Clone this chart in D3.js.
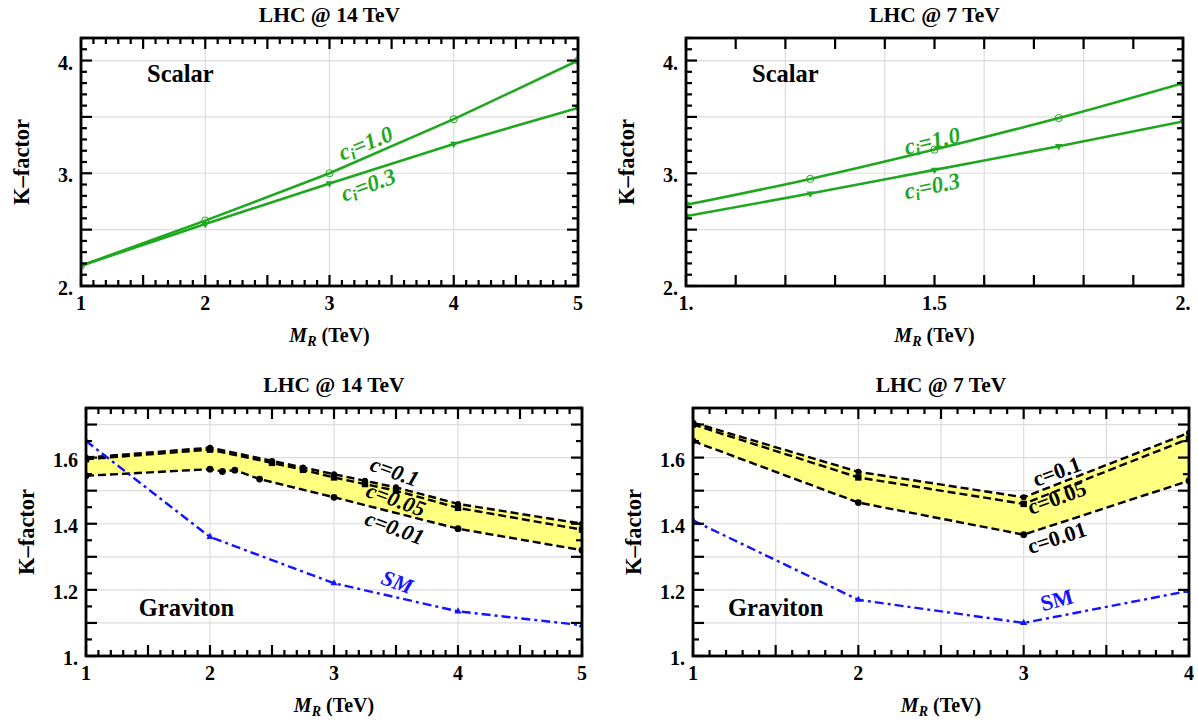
<!DOCTYPE html>
<html><head><meta charset="utf-8">
<script src="https://cdn.jsdelivr.net/npm/d3@7"></script>
<style>
body{margin:0;background:#fff}
text{font-family:"Liberation Serif","Times New Roman",serif;font-weight:bold}
</style>
</head><body>
<svg id="c" width="1198" height="723"></svg>
<script>
// ---------------- data ----------------
const scalar14X   = [1, 2, 3, 4, 5];
const scalar14C10 = [2.18, 2.58, 3.00, 3.48, 4.00];
const scalar14C03 = [2.18, 2.55, 2.91, 3.26, 3.58];

const scalar7X    = [1, 1.25, 1.5, 1.75, 2];
const scalar7C10  = [2.72, 2.95, 3.21, 3.49, 3.80];
const scalar7C03  = [2.62, 2.82, 3.03, 3.24, 3.46];

const grav14X_top = [1, 2, 2.5, 2.75, 3, 3.25, 3.5, 4, 5];
const grav14_c01  = [1.600, 1.630, 1.590, 1.570, 1.550, 1.530, 1.510, 1.460, 1.400];
const grav14_c005 = [1.595, 1.624, 1.584, 1.563, 1.540, 1.520, 1.500, 1.448, 1.382];
const grav14X_low = [1, 2, 2.1, 2.2, 2.4, 3, 4, 5];
const grav14_c001 = [1.545, 1.565, 1.558, 1.562, 1.535, 1.480, 1.385, 1.320];
const sm14X       = [1, 2, 3, 4, 5];
const sm14        = [1.650, 1.360, 1.220, 1.135, 1.093];

const grav7X      = [1, 2, 3, 4];
const grav7_c01   = [1.706, 1.557, 1.480, 1.675];
const grav7_c005  = [1.700, 1.540, 1.460, 1.657];
const grav7_c001  = [1.650, 1.464, 1.367, 1.530];
const sm7         = [1.410, 1.170, 1.100, 1.197];

const titles = ["LHC @ 14 TeV", "LHC @ 7 TeV", "LHC @ 14 TeV", "LHC @ 7 TeV"];
const ticksScalarY = [2, 3, 4];
const ticksScalarYLabels = ["2.", "3.", "4."];
const ticks14X = [1, 2, 3, 4, 5];
const ticks14XLabels = ["1", "2", "3", "4", "5"];
const ticks7sX = [1, 1.5, 2];
const ticks7sXLabels = ["1.", "1.5", "2."];
const ticksGravY = [1, 1.2, 1.4, 1.6];
const ticksGravYLabels = ["1.", "1.2", "1.4", "1.6"];
const ticks7gX = [1, 2, 3, 4];
const ticks7gXLabels = ["1", "2", "3", "4"];

// ---------------- drawing ----------------
const svg = d3.select("#c");
const GREEN = "#1fa81f", BLUE = "#1414ff", YELLOW = "#ffff80";

function rng(a, b, s) {
  const out = [];
  const n = Math.round((b - a) / s);
  for (let i = 0; i <= n; i++) out.push(+(a + i * s).toFixed(6));
  return out;
}

function panel(cfg) {
  const g = svg.append("g");
  const x = d3.scaleLinear().domain(cfg.xd).range([cfg.l, cfg.r]);
  const y = d3.scaleLinear().domain(cfg.yd).range([cfg.b, cfg.t]);
  const id = "clip" + cfg.id;
  svg.append("clipPath").attr("id", id).append("rect")
    .attr("x", cfg.l).attr("y", cfg.t).attr("width", cfg.r - cfg.l).attr("height", cfg.b - cfg.t);

  // grid
  cfg.gridX.forEach(v => g.append("line").attr("x1", x(v)).attr("x2", x(v)).attr("y1", cfg.t).attr("y2", cfg.b)
    .attr("stroke", "#dcdcdc").attr("stroke-width", 1.2));
  cfg.gridY.forEach(v => g.append("line").attr("y1", y(v)).attr("y2", y(v)).attr("x1", cfg.l).attr("x2", cfg.r)
    .attr("stroke", "#dcdcdc").attr("stroke-width", 1.2));

  const plot = g.append("g").attr("clip-path", `url(#${id})`);
  cfg.draw(plot, x, y);

  // ticks
  const tk = g.append("g").attr("stroke", "#000").attr("stroke-width", 2.2);
  const isMaj = (v, s) => Math.abs(v / s - Math.round(v / s)) < 1e-6;
  rng(cfg.xd[0], cfg.xd[1], cfg.xMinor).forEach(v => {
    const L = isMaj(v - cfg.xd[0], cfg.xMajor) ? 11 : 6;
    tk.append("line").attr("x1", x(v)).attr("x2", x(v)).attr("y1", cfg.b).attr("y2", cfg.b - L);
    tk.append("line").attr("x1", x(v)).attr("x2", x(v)).attr("y1", cfg.t).attr("y2", cfg.t + L);
  });
  rng(cfg.yd[0], cfg.yd[1], cfg.yMinor).forEach(v => {
    const L = isMaj(v - cfg.yd[0], cfg.yMajor) ? 11 : 6;
    tk.append("line").attr("y1", y(v)).attr("y2", y(v)).attr("x1", cfg.l).attr("x2", cfg.l + L);
    tk.append("line").attr("y1", y(v)).attr("y2", y(v)).attr("x1", cfg.r).attr("x2", cfg.r - L);
  });
  g.append("rect").attr("x", cfg.l).attr("y", cfg.t).attr("width", cfg.r - cfg.l).attr("height", cfg.b - cfg.t)
    .attr("fill", "none").attr("stroke", "#000").attr("stroke-width", 2.8);

  // tick labels
  cfg.xLabs.forEach((v, i) => g.append("text").attr("x", x(v)).attr("y", cfg.b + 24)
    .attr("text-anchor", "middle").attr("font-size", 20).text(cfg.xLabT[i]));
  cfg.yLabs.forEach((v, i) => g.append("text").attr("x", cfg.l - 8).attr("y", y(v) + 9)
    .attr("text-anchor", "end").attr("font-size", 20).text(cfg.yLabT[i]));

  // title
  g.append("text").attr("x", (cfg.l + cfg.r) / 2).attr("y", cfg.t - 16).attr("text-anchor", "middle")
    .attr("font-size", 21.5).text(cfg.title);
  // x axis label
  const xl = g.append("text").attr("x", (cfg.l + cfg.r) / 2).attr("y", cfg.b + 56).attr("text-anchor", "middle").attr("font-size", 20);
  xl.append("tspan").attr("font-style", "italic").text("M");
  xl.append("tspan").attr("font-style", "italic").attr("font-size", 14).attr("dy", 4).text("R");
  xl.append("tspan").attr("dy", -4).text(" (TeV)");
  // y axis label
  g.append("text").attr("transform", `translate(${cfg.l - 52},${(cfg.t + cfg.b) / 2}) rotate(-90)`)
    .attr("text-anchor", "middle").attr("font-size", 22.5).text("K\u2013factor");

  if (cfg.annot) cfg.annot(g, x, y);
}

function lineGen(x, y) { return d3.line().x(d => x(d[0])).y(d => y(d[1])); }
function zip(a, b) { return a.map((v, i) => [v, b[i]]); }

function rotText(g, px, py, ang, opts) {
  const t = g.append("text").attr("transform", `translate(${px},${py}) rotate(${ang})`)
    .attr("text-anchor", "middle").attr("dominant-baseline", "central")
    .attr("font-size", opts.size || 22).attr("fill", opts.color || "#000");
  if (opts.italic) t.attr("font-style", "italic");
  return t;
}

function ciLabel(g, px, py, ang, val) {
  const t = rotText(g, px, py, ang, { color: GREEN, italic: true, size: 23 });
  t.append("tspan").text("c");
  t.append("tspan").attr("font-size", 16).attr("dy", 5).text("i");
  t.append("tspan").attr("dy", -5).text("=" + val);
}

function scalarDraw(p, x, y, X, c10, c03, curve) {
  const ln = lineGen(x, y);
  if (curve) ln.curve(d3.curveMonotoneX);
  p.append("path").attr("d", ln(zip(X, c10))).attr("fill", "none").attr("stroke", GREEN).attr("stroke-width", 2.6);
  p.append("path").attr("d", ln(zip(X, c03))).attr("fill", "none").attr("stroke", GREEN).attr("stroke-width", 2.6);
  zip(X, c10).forEach(d => p.append("circle").attr("cx", x(d[0])).attr("cy", y(d[1])).attr("r", 3.6)
    .attr("fill", "none").attr("stroke", GREEN).attr("stroke-width", 1));
  zip(X, c03).forEach(d => p.append("path").attr("d", d3.symbol(d3.symbolTriangle, 24)())
    .attr("transform", `translate(${x(d[0])},${y(d[1])}) rotate(180)`).attr("fill", GREEN));
}

// ---- Top-left: scalar 14 TeV
panel({
  id: 1, l: 81, r: 578, t: 38, b: 286, xd: [1, 5], yd: [2, 4.2],
  xMajor: 0.5, xMinor: 0.1, yMajor: 0.5, yMinor: 0.1,
  gridX: [2, 3, 4], gridY: [2.5, 3, 3.5, 4],
  xLabs: ticks14X, xLabT: ticks14XLabels, yLabs: ticksScalarY, yLabT: ticksScalarYLabels,
  title: titles[0],
  draw(p, x, y) { scalarDraw(p, x, y, scalar14X, scalar14C10, scalar14C03, false); },
  annot(g, x, y) {
    g.append("text").attr("x", x(1.8)).attr("y", y(3.885)).attr("text-anchor", "middle").attr("dominant-baseline", "central")
      .attr("font-size", 24.5).text("Scalar");
    ciLabel(g, x(3.29), y(3.27), -22, "1.0");
    ciLabel(g, x(3.31), y(2.90), -20, "0.3");
  }
});

// ---- Top-right: scalar 7 TeV
panel({
  id: 2, l: 686, r: 1183, t: 38, b: 286, xd: [1, 2], yd: [2, 4.2],
  xMajor: 0.1, xMinor: 0.1, yMajor: 0.5, yMinor: 0.1,
  gridX: [1.2, 1.4, 1.6, 1.8], gridY: [2.5, 3, 3.5, 4],
  xLabs: ticks7sX, xLabT: ticks7sXLabels, yLabs: ticksScalarY, yLabT: ticksScalarYLabels,
  title: titles[1],
  draw(p, x, y) { scalarDraw(p, x, y, scalar7X, scalar7C10, scalar7C03, true); },
  annot(g, x, y) {
    g.append("text").attr("x", x(1.2)).attr("y", y(3.885)).attr("text-anchor", "middle").attr("dominant-baseline", "central")
      .attr("font-size", 24.5).text("Scalar");
    ciLabel(g, x(1.495), y(3.29), -13, "1.0");
    ciLabel(g, x(1.495), y(2.89), -12, "0.3");
  }
});

function gravDraw(p, x, y, topX, top, midX, mid, lowX, low, smX, sm) {
  const ln = lineGen(x, y);
  const band = zip(topX, top).concat(zip(lowX, low).reverse());
  p.append("path").attr("d", ln(band) + "Z").attr("fill", YELLOW).attr("stroke", "none");
  [[topX, top], [midX, mid], [lowX, low]].forEach(s => p.append("path").attr("d", ln(zip(s[0], s[1])))
    .attr("fill", "none").attr("stroke", "#000").attr("stroke-width", 2.4).attr("stroke-dasharray", "8,4"));
  p.append("path").attr("d", ln(zip(smX, sm))).attr("fill", "none").attr("stroke", BLUE).attr("stroke-width", 2.4)
    .attr("stroke-dasharray", "9,4,3,4");
  zip(topX, top).forEach(d => p.append("circle").attr("cx", x(d[0])).attr("cy", y(d[1])).attr("r", 3).attr("fill", "#000"));
  zip(midX, mid).forEach(d => p.append("rect").attr("x", x(d[0]) - 3.2).attr("y", y(d[1]) - 3.2).attr("width", 6.4).attr("height", 6.4).attr("fill", "#000"));
  zip(lowX, low).forEach(d => p.append("circle").attr("cx", x(d[0])).attr("cy", y(d[1])).attr("r", 3.4).attr("fill", "#000"));
  zip(smX, sm).forEach(d => p.append("path").attr("d", d3.symbol(d3.symbolTriangle, 22)())
    .attr("transform", `translate(${x(d[0])},${y(d[1])})`).attr("fill", BLUE));
}

// ---- Bottom-left: graviton 14 TeV
panel({
  id: 3, l: 86, r: 582, t: 408, b: 656, xd: [1, 5], yd: [1, 1.75],
  xMajor: 0.5, xMinor: 0.1, yMajor: 0.1, yMinor: 0.05,
  gridX: [2, 3, 4], gridY: [1.1, 1.2, 1.3, 1.4, 1.5, 1.6, 1.7],
  xLabs: ticks14X, xLabT: ticks14XLabels, yLabs: ticksGravY, yLabT: ticksGravYLabels,
  title: titles[2],
  draw(p, x, y) { gravDraw(p, x, y, grav14X_top, grav14_c01, grav14X_top, grav14_c005, grav14X_low, grav14_c001, sm14X, sm14); },
  annot(g, x, y) {
    g.append("text").attr("x", x(1.81)).attr("y", y(1.148)).attr("text-anchor", "middle").attr("dominant-baseline", "central")
      .attr("font-size", 24.5).text("Graviton");
    rotText(g, x(3.49), y(1.558), 20, { italic: true }).text("c=0.1");
    rotText(g, x(3.50), y(1.473), 20, { italic: true }).text("c=0.05");
    rotText(g, x(3.49), y(1.388), 20, { italic: true }).text("c=0.01");
    rotText(g, x(3.51), y(1.224), 20, { italic: true, color: BLUE }).text("SM");
  }
});

// ---- Bottom-right: graviton 7 TeV
panel({
  id: 4, l: 693, r: 1189, t: 408, b: 656, xd: [1, 4], yd: [1, 1.75],
  xMajor: 0.5, xMinor: 0.1, yMajor: 0.1, yMinor: 0.05,
  gridX: [1.5, 2, 2.5, 3, 3.5], gridY: [1.1, 1.2, 1.3, 1.4, 1.5, 1.6, 1.7],
  xLabs: ticks7gX, xLabT: ticks7gXLabels, yLabs: ticksGravY, yLabT: ticksGravYLabels,
  title: titles[3],
  draw(p, x, y) { gravDraw(p, x, y, grav7X, grav7_c01, grav7X, grav7_c005, grav7X, grav7_c001, grav7X, sm7); },
  annot(g, x, y) {
    g.append("text").attr("x", x(1.5)).attr("y", y(1.148)).attr("text-anchor", "middle").attr("dominant-baseline", "central")
      .attr("font-size", 24.5).text("Graviton");
    rotText(g, x(3.20), y(1.558), -20, {}).text("c=0.1");
    rotText(g, x(3.20), y(1.479), -20, {}).text("c=0.05");
    rotText(g, x(3.20), y(1.358), -18, {}).text("c=0.01");
    rotText(g, x(3.20), y(1.170), -15, { color: BLUE }).text("SM");
  }
});
</script>
</body></html>
